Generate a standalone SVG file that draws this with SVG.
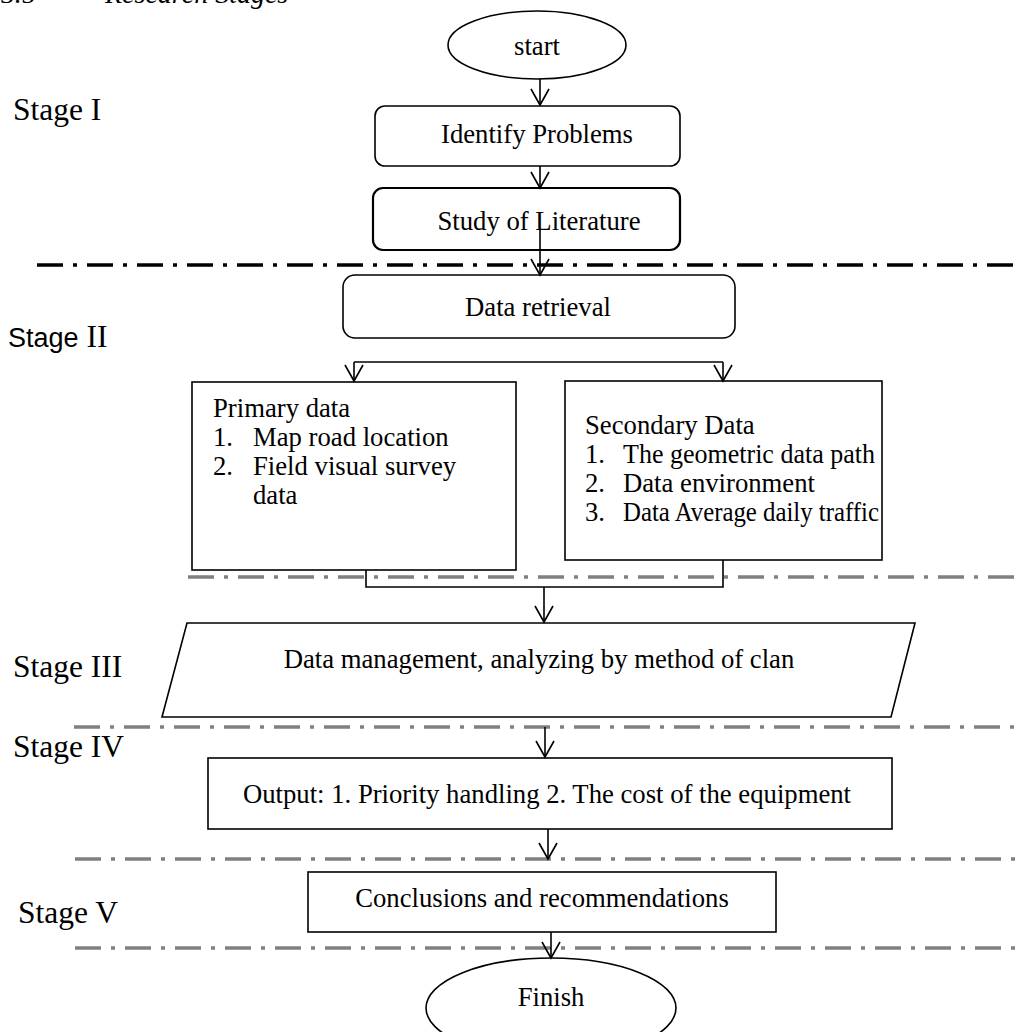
<svg xmlns="http://www.w3.org/2000/svg" width="1020" height="1032" viewBox="0 0 1020 1032">
<style>
text{font-family:"Liberation Serif","Times New Roman",serif;fill:#000}
.t{font-size:26.7px;text-anchor:middle}
.l{font-size:26.7px}
.stage{font-size:31.5px}
.node{fill:#fff;stroke:#000;stroke-width:1.6}
.conn{fill:none;stroke:#000;stroke-width:1.6}
.sep-black{fill:none;stroke:#000;stroke-width:3.5;stroke-dasharray:26 10 4 10}
.sep-gray{fill:none;stroke:#808080;stroke-width:3.5;stroke-dasharray:26 10 4 10}
</style>
<defs>
<marker id="v" viewBox="0 0 20 20" markerWidth="20" markerHeight="20" refX="18" refY="10" orient="auto" markerUnits="userSpaceOnUse">
<path d="M2,1 L18,10 L2,19" fill="none" stroke="#000" stroke-width="1.6"/>
</marker>
</defs>
<rect width="1020" height="1032" fill="#fff"/>
<g id="title">
<text x="0" y="3" style="font-size:28px">3.5</text>
<text x="105" y="3" style="font-size:28px;font-style:italic">Research Stages</text>
</g>
<g id="stage-labels">
<text class="stage" x="13" y="120">Stage I</text>
<text x="8" y="347" style="font-size:31.5px"><tspan style="font-family:'Liberation Sans',Arial,sans-serif;font-size:27px">Stage</tspan> II</text>
<text class="stage" x="13" y="677">Stage III</text>
<text class="stage" x="13" y="757">Stage IV</text>
<text class="stage" x="18" y="923">Stage V</text>
</g>
<g id="separators">
<path class="sep-black" d="M37,265 H1020"/>
<path class="sep-gray" d="M188,577 H1020"/>
<path class="sep-gray" d="M74,727 H1020"/>
<path class="sep-gray" d="M75,859 H1020"/>
<path class="sep-gray" d="M75,948 H1020"/>
</g>
<g id="start">
<ellipse class="node" cx="537" cy="45" rx="89" ry="34"/>
<text class="t" x="537" y="55">start</text>
</g>
<g id="identify">
<rect class="node" x="375" y="106" width="305" height="60" rx="10"/>
<text class="t" x="537" y="143">Identify Problems</text>
</g>
<g id="study">
<rect class="node" x="373" y="188" width="307" height="62" rx="10" style="stroke-width:2.2"/>
<text class="t" x="539" y="230">Study of Literature</text>
</g>
<g id="retrieval">
<rect class="node" x="343" y="275" width="392" height="63" rx="12"/>
<text class="t" x="538" y="316">Data retrieval</text>
</g>
<g id="primary">
<rect class="node" x="192" y="382" width="324" height="188"/>
<text class="l" x="213" y="417">Primary data</text>
<text class="l" x="213" y="446">1.</text><text class="l" x="253" y="446">Map road location</text>
<text class="l" x="213" y="475">2.</text><text class="l" x="253" y="475">Field visual survey</text>
<text class="l" x="253" y="504">data</text>
</g>
<g id="secondary">
<rect class="node" x="565" y="381" width="317" height="179"/>
<text class="l" x="585" y="434">Secondary Data</text>
<text class="l" x="585" y="463">1.</text><text class="l" x="623" y="463" textLength="252" lengthAdjust="spacingAndGlyphs">The geometric data path</text>
<text class="l" x="585" y="492">2.</text><text class="l" x="623" y="492">Data environment</text>
<text class="l" x="585" y="521">3.</text><text class="l" x="623" y="521" textLength="256" lengthAdjust="spacingAndGlyphs">Data Average daily traffic</text>
</g>
<g id="management">
<polygon class="node" points="187,623 915,623 891,717 162,717"/>
<text class="t" x="539" y="668">Data management, analyzing by method of clan</text>
</g>
<g id="output">
<rect class="node" x="208" y="758" width="684" height="71"/>
<text class="t" x="547" y="803">Output: 1. Priority handling 2. The cost of the equipment</text>
</g>
<g id="conclusions">
<rect class="node" x="308" y="872" width="468" height="60"/>
<text class="t" x="542" y="907">Conclusions and recommendations</text>
</g>
<g id="finish">
<ellipse class="node" cx="551" cy="1008" rx="125" ry="50"/>
<text class="t" x="551" y="1006">Finish</text>
</g>
<g id="connectors">
<path class="conn" d="M540,79 V105" marker-end="url(#v)"/>
<path class="conn" d="M540,166 V188" marker-end="url(#v)"/>
<path class="conn" d="M540,230 V275" marker-end="url(#v)"/>
<path class="conn" d="M354,362 H723"/>
<path class="conn" d="M354,362 V381" marker-end="url(#v)"/>
<path class="conn" d="M723,362 V381" marker-end="url(#v)"/>
<path class="conn" d="M366,570 V587 H723 V560"/>
<path class="conn" d="M544,587 V622" marker-end="url(#v)"/>
<path class="conn" d="M545,727 V757" marker-end="url(#v)"/>
<path class="conn" d="M548,829 V859" marker-end="url(#v)"/>
<path class="conn" d="M551,932 V958" marker-end="url(#v)"/>
</g>
</svg>
